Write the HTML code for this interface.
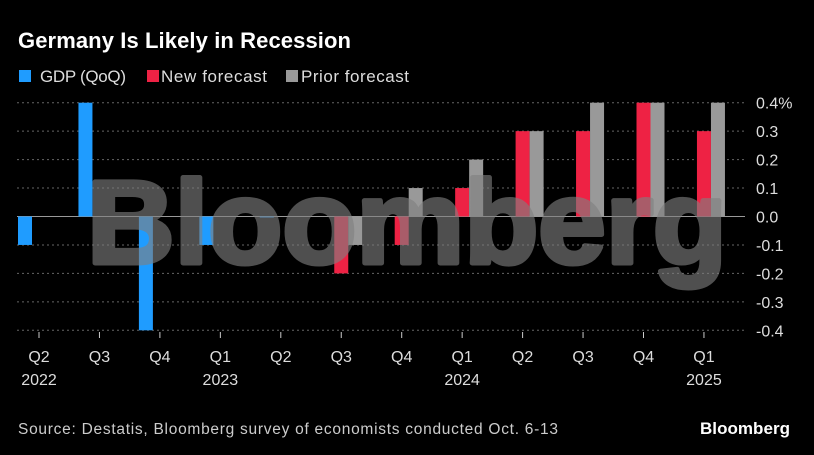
<!DOCTYPE html>
<html><head><meta charset="utf-8"><style>
html,body{margin:0;padding:0;background:#000;}
svg{display:block;font-family:"Liberation Sans",sans-serif;}
</style></head><body>
<svg id="chart" width="814" height="455" viewBox="0 0 814 455">
<text x="18" y="48" fill="#fff" font-size="22" font-weight="bold" textLength="333">Germany Is Likely in Recession</text>
<g>
<rect x="19" y="70" width="12" height="12" fill="#1f9cff"/>
<text x="40" y="82" fill="#ddd" font-size="17" textLength="86">GDP (QoQ)</text>
<rect x="147" y="70" width="12" height="12" fill="#ee2244"/>
<text x="161" y="82" fill="#ddd" font-size="17" textLength="106">New forecast</text>
<rect x="286" y="70" width="12" height="12" fill="#999"/>
<text x="301" y="82" fill="#ddd" font-size="17" textLength="108">Prior forecast</text>
</g>
<g id="grid"></g><g id="bars"></g>
<g opacity="0.62">
<text x="87" y="263" fill="#808080" stroke="#808080" stroke-width="5" stroke-linejoin="round" font-size="118" font-weight="bold" textLength="640" lengthAdjust="spacingAndGlyphs">Bloomberg</text>
</g>
<g id="axes"></g>
<text x="18" y="434" fill="#ccc" font-size="15.5" textLength="540">Source: Destatis, Bloomberg survey of economists conducted Oct. 6-13</text>
<text x="700" y="434" fill="#fff" font-size="17" font-weight="bold" textLength="90">Bloomberg</text>
</svg>
<script>
const categories=["Q2","Q3","Q4","Q1","Q2","Q3","Q4","Q1","Q2","Q3","Q4","Q1"];
const years=["2022","","","2023","","","","2024","","","","2025"];
const gdp=[-0.1,0.4,-0.4,-0.1,0.0,null,null,null,null,null,null,null];
const newForecast=[null,null,null,null,null,-0.2,-0.1,0.1,0.3,0.3,0.4,0.3];
const priorForecast=[null,null,null,null,null,-0.1,0.1,0.2,0.3,0.4,0.4,0.4];
const yTicks=[0.4,0.3,0.2,0.1,0.0,-0.1,-0.2,-0.3,-0.4];
const yTickLabels=["0.4%","0.3","0.2","0.1","0.0","-0.1","-0.2","-0.3","-0.4"];
const NS="http://www.w3.org/2000/svg";
const y=v=>216.5-v*284.5;
const x=i=>39+i*60.45;
function mk(t,a,p){const e=document.createElementNS(NS,t);for(const k in a)e.setAttribute(k,a[k]);p.appendChild(e);return e;}
const grid=document.getElementById('grid'),bars=document.getElementById('bars'),axes=document.getElementById('axes');
yTicks.forEach((v,i)=>{
 const l=mk('line',{x1:17,x2:745,y1:y(v),y2:y(v),stroke:v===0?'#999':'#666','stroke-width':1,'stroke-dasharray':v===0?'':'2,3'},grid);
 
 
 const t=mk('text',{x:756,y:y(v)+6,fill:'#ddd','font-size':16},axes);t.textContent=yTickLabels[i];
 
 
});
const series=[[gdp,'#1f9cff',-21],[newForecast,'#ee2244',-7],[priorForecast,'#999',7]];
series.forEach(([arr,col,off],s)=>{arr.forEach((v,i)=>{if(v===null)return;
 const y0=y(0),y1=y(v);const h=Math.max(Math.abs(y1-y0),1);
 const r=mk('rect',{x:x(i)+off,y:Math.min(y0,y1),width:14,height:h,fill:col},bars);
 
 
});});
categories.forEach((c,i)=>{
 const tk=mk('line',{x1:x(i),x2:x(i),y1:332,y2:338,stroke:'#ccc'},axes);
 
 
 const t=mk('text',{x:x(i),y:362,fill:'#ddd','font-size':16,'text-anchor':'middle'},axes);t.textContent=c;
 
 
 if(years[i]){const yt=mk('text',{x:x(i),y:385,fill:'#ddd','font-size':16,'text-anchor':'middle'},axes);yt.textContent=years[i];
 
 }
});
</script>
</body></html>
